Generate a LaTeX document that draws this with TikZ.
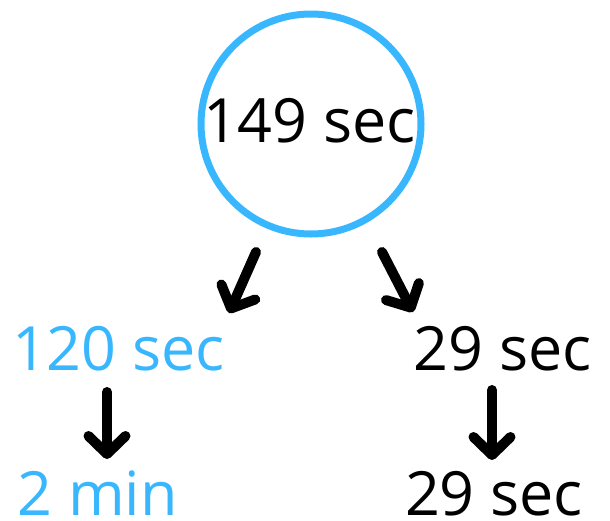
\documentclass[tikz,border=0pt]{standalone}
\usepackage{fontspec}
\setmainfont{Open Sans}
\usetikzlibrary{arrows.meta}
\definecolor{skyblue}{RGB}{56,183,255}
\tikzset{
  lbl/.style={anchor=base, inner sep=0pt, font=\fontsize{61pt}{67pt}\selectfont},
  arr/.style={line width=10pt, line cap=round, -{Straight Barb[round, length=18pt, width=37pt]}},
}
\begin{document}
\begin{tikzpicture}[x=1pt, y=-1pt]
\useasboundingbox (0,0) rectangle (610,520);
\node[circle, draw=skyblue, line width=7pt, minimum size=220pt, inner sep=0pt] (c) at (311,124) {};
\node[lbl] (t0) at (309.5,142) {149 sec};
\node[lbl, text=skyblue] (l1) at (118.5,370) {120 sec};
\node[lbl] (r1) at (502.5,370) {29 sec};
\node[lbl, text=skyblue] (l2) at (97.5,515) {2 min};
\node[lbl] (r2) at (494,515) {29 sec};
\coordinate (a1s) at (256,252);
\coordinate (a1e) at (229,313);
\coordinate (a2s) at (382,252);
\coordinate (a2e) at (413,312);
\coordinate (a3s) at (107,392);
\coordinate (a3e) at (107,459);
\coordinate (a4s) at (492,390);
\coordinate (a4e) at (492,460);
\draw[arr] (a1s) -- (a1e);
\draw[arr] (a2s) -- (a2e);
\draw[arr] (a3s) -- (a3e);
\draw[arr] (a4s) -- (a4e);
\end{tikzpicture}
\end{document}
